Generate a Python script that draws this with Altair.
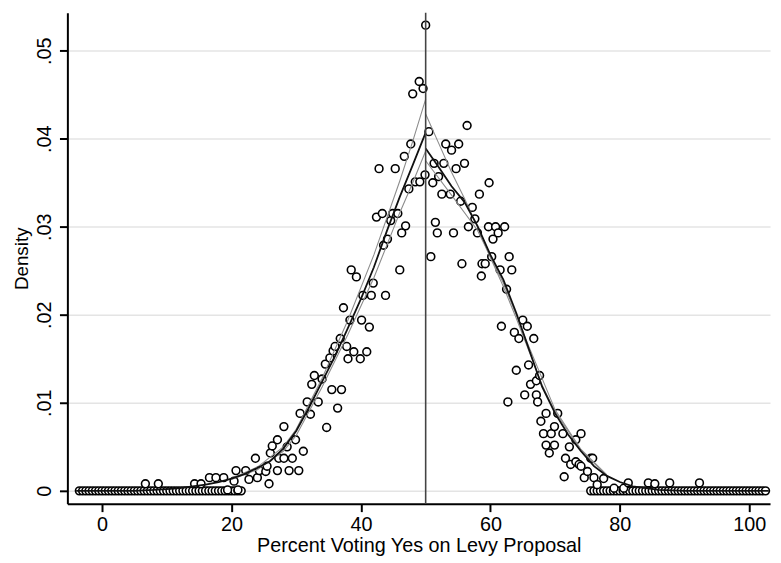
import altair as alt
import pandas as pd
import numpy as np

# ---- scatter points (percent, density) ----
pt_x = [6.7, 8.7, 14.3, 15.3, 16.6, 17.6, 18.8, 19.4, 20.4, 20.7, 21.0, 22.2, 22.7, 23.7, 24.0,
        24.3, 25.3, 25.5, 25.8, 26.0, 26.3, 27.1, 27.1, 27.3, 28.1, 28.1, 28.6, 28.9, 29.4, 29.9,
        30.4, 30.6, 31.1, 31.7, 32.2, 32.4, 32.8, 33.4, 34.0, 34.5, 34.7, 35.2, 35.5, 35.7, 36.0,
        36.4, 36.8, 37.0, 37.3, 37.8, 38.0, 38.3, 38.5, 38.9, 39.3, 39.9, 40.1, 40.3, 40.9, 41.3,
        41.6, 41.9, 42.4, 42.8, 43.3, 43.5, 43.8, 44.1, 44.6, 44.9, 45.3, 45.7, 46.0, 46.3, 46.7,
        46.9, 47.4, 47.7, 48.0, 48.4, 49.0, 49.1, 49.6, 49.9, 50.0,
        50.5, 50.8, 51.1, 51.3, 51.5, 51.8, 52.0, 52.5, 52.8, 53.1, 53.8, 54.0, 54.3, 54.7, 55.1,
        55.4, 55.6, 56.0, 56.4, 56.6, 57.2, 57.6, 58.0, 58.3, 58.6, 58.7, 59.2, 59.7, 59.8, 60.2,
        60.4, 60.8, 61.2, 61.5, 61.7, 62.2, 62.5, 62.7, 62.9, 63.3, 63.7, 64.0, 64.4, 65.0, 65.3,
        65.7, 65.9, 66.2, 66.7, 67.1, 67.1, 67.3, 67.6, 67.8, 68.2, 68.6, 68.6, 69.1, 69.4, 69.9,
        69.9, 70.4, 71.2, 71.4, 71.6, 72.2, 72.4, 73.2, 73.2, 73.7, 74.0, 74.0, 74.5, 75.0, 75.5,
        75.8, 76.0, 76.5, 77.5, 79.1, 80.6, 81.3, 84.4, 85.4, 87.7, 92.3]
pt_y = [0.0008, 0.0008, 0.0008, 0.0008, 0.0015, 0.0015, 0.0015, 0.0001, 0.0011, 0.0023, 0.0001, 0.0023, 0.0013, 0.0037, 0.0015,
        0.0023, 0.0022, 0.0028, 0.0008, 0.0043, 0.0051, 0.0058, 0.0023, 0.0037, 0.0073, 0.0037, 0.0050, 0.0023, 0.0037, 0.0058,
        0.0023, 0.0088, 0.0045, 0.0101, 0.0087, 0.0121, 0.0131, 0.0101, 0.0127, 0.0144, 0.0072, 0.0151, 0.0115, 0.0159, 0.0164,
        0.0094, 0.0173, 0.0115, 0.0208, 0.0164, 0.0150, 0.0194, 0.0251, 0.0158, 0.0243, 0.0150, 0.0194, 0.0222, 0.0158, 0.0186,
        0.0222, 0.0236, 0.0311, 0.0366, 0.0315, 0.0279, 0.0222, 0.0286, 0.0307, 0.0315, 0.0366, 0.0315, 0.0251, 0.0293, 0.0380,
        0.0301, 0.0343, 0.0394, 0.0451, 0.0351, 0.0465, 0.0351, 0.0457, 0.0359, 0.0529,
        0.0408, 0.0266, 0.0350, 0.0372, 0.0305, 0.0293, 0.0357, 0.0337, 0.0372, 0.0394, 0.0337, 0.0387, 0.0293, 0.0366, 0.0394,
        0.0329, 0.0258, 0.0372, 0.0415, 0.0300, 0.0322, 0.0309, 0.0293, 0.0337, 0.0244, 0.0258, 0.0258, 0.0300, 0.0350, 0.0266,
        0.0286, 0.0300, 0.0293, 0.0251, 0.0187, 0.0300, 0.0229, 0.0101, 0.0266, 0.0251, 0.0180, 0.0137, 0.0173, 0.0194, 0.0109,
        0.0187, 0.0143, 0.0121, 0.0173, 0.0109, 0.0125, 0.0101, 0.0131, 0.0079, 0.0065, 0.0088, 0.0052, 0.0043, 0.0065, 0.0073,
        0.0052, 0.0088, 0.0065, 0.0016, 0.0037, 0.0050, 0.0030, 0.0058, 0.0033, 0.0030, 0.0065, 0.0028, 0.0015, 0.0022, 0.0037,
        0.0037, 0.0015, 0.0007, 0.0014, 0.0003, 0.0003, 0.0009, 0.0009, 0.0008, 0.0009, 0.0009]

# runs of zero-density points (start, end), every half percent
zero_runs = [(-3.5, 21.5), (75.5, 102.5)]

# ---- fitted curves ----
black_left_x = [-4, 0, 5, 8, 10, 12, 14, 16, 18, 20, 22, 24, 26, 28, 30, 32, 34, 36, 38, 40, 42, 44, 46, 48, 50]
black_left_y = [0.0, 0.0, 0.0, 0.0001, 0.0002, 0.0003, 0.0005, 0.0007, 0.0010, 0.0014, 0.0019, 0.0026, 0.0034,
                0.0048, 0.0068, 0.0095, 0.0124, 0.0153, 0.0185, 0.0218, 0.0254, 0.0295, 0.0334, 0.0370, 0.0407]
black_right_x = [50, 52, 54, 56, 58, 60, 62, 64, 66, 68, 70, 72, 74, 76, 78, 80, 82, 84, 86, 90, 103]
black_right_y = [0.0389, 0.0368, 0.0346, 0.0328, 0.0301, 0.0268, 0.0240, 0.0202, 0.0160, 0.0118, 0.0088, 0.0064,
                 0.0045, 0.0028, 0.0017, 0.0010, 0.0005, 0.0003, 0.0001, 0.0, 0.0]
gray_up_left_x = [20, 24, 28, 30, 34, 38, 42, 46, 48, 50]
gray_up_left_y = [0.0014, 0.0027, 0.0050, 0.0070, 0.0128, 0.0194, 0.0268, 0.0352, 0.0397, 0.0445]
gray_lo_left_x = [20, 24, 28, 30, 34, 38, 42, 46, 48, 50]
gray_lo_left_y = [0.0013, 0.0024, 0.0045, 0.0063, 0.0118, 0.0178, 0.0242, 0.0316, 0.0350, 0.0386]
gray_up_right_x = [50, 52, 54, 56, 58, 60, 62, 64, 66, 68, 70, 74, 78]
gray_up_right_y = [0.0428, 0.0395, 0.0362, 0.0332, 0.0300, 0.0265, 0.0232, 0.0196, 0.0158, 0.0120, 0.0090, 0.0046, 0.0017]
gray_lo_right_x = [50, 54, 58, 62, 66, 70, 74, 78]
gray_lo_right_y = [0.0375, 0.0336, 0.0296, 0.0236, 0.0163, 0.0092, 0.0047, 0.0018]

x_ticks = [0, 20, 40, 60, 80, 100]
y_ticks = [0, 0.01, 0.02, 0.03, 0.04, 0.05]
vline_x = [50]

# ---- build tables ----
zx = np.concatenate([np.arange(a, b + 0.01, 0.5) for a, b in zero_runs])
pts = pd.DataFrame({"x": list(zx) + pt_x, "y": [0.0] * len(zx) + pt_y})

xs = alt.Scale(domain=[-5.35, 103.2], nice=False, zero=False)
ys = alt.Scale(domain=[-0.00146, 0.0543], nice=False, zero=False)

FONT = "Liberation Sans"

x_axis = alt.Axis(values=x_ticks, title="Percent Voting Yes on Levy Proposal", grid=False,
                  labelAngle=0, labelFontSize=20, titleFontSize=20, labelPadding=3, titlePadding=1)
y_axis = alt.Axis(values=y_ticks, title="Density", grid=True,
                  labelExpr="datum.value == 0 ? '0' : '.' + format(datum.value * 100, '02.0f')",
                  labelAngle=270, labelAlign="center", labelBaseline="bottom",
                  labelFontSize=20, titleFontSize=19, labelPadding=5, titlePadding=3)


def curve(xv, yv, color, width):
    df = pd.DataFrame({"x": xv, "y": yv})
    return alt.Chart(df).mark_line(color=color, strokeWidth=width, clip=True).encode(
        x=alt.X("x:Q", scale=xs, axis=x_axis), y=alt.Y("y:Q", scale=ys, axis=y_axis))


points = alt.Chart(pts).mark_point(shape="circle", filled=True, fill="white", fillOpacity=1,
                                   stroke="black", strokeWidth=1.6, size=62, opacity=1).encode(
    x=alt.X("x:Q", scale=xs, axis=x_axis), y=alt.Y("y:Q", scale=ys, axis=y_axis))

vline = alt.Chart(pd.DataFrame({"x": vline_x})).mark_rule(color="#444444", strokeWidth=1.6).encode(
    x=alt.X("x:Q", scale=xs, axis=x_axis))

layers = [
    points,
    curve(gray_up_left_x, gray_up_left_y, "#8c8c8c", 1.1),
    curve(gray_lo_left_x, gray_lo_left_y, "#8c8c8c", 1.1),
    curve(gray_up_right_x, gray_up_right_y, "#8c8c8c", 1.1),
    curve(gray_lo_right_x, gray_lo_right_y, "#8c8c8c", 1.1),
    curve(black_left_x, black_left_y, "#111111", 1.8),
    curve(black_right_x, black_right_y, "#111111", 1.8),
    vline,
]

chart = alt.layer(*layers).properties(
    width=710, height=496,
    autosize=alt.AutoSizeParams(type="none"),
    padding={"left": 60, "top": 2, "right": 3, "bottom": 54},
).configure_view(stroke=None).configure_axis(
    labelFont=FONT, titleFont=FONT, labelColor="black", titleColor="black",
    titleFontWeight="normal", domainColor="black", domainWidth=2,
    tickColor="black", tickWidth=2, tickSize=8,
    gridColor="#e4e4e4", gridWidth=1.5,
)

chart.save("out.html", embed_options={"renderer": "svg", "actions": False})
